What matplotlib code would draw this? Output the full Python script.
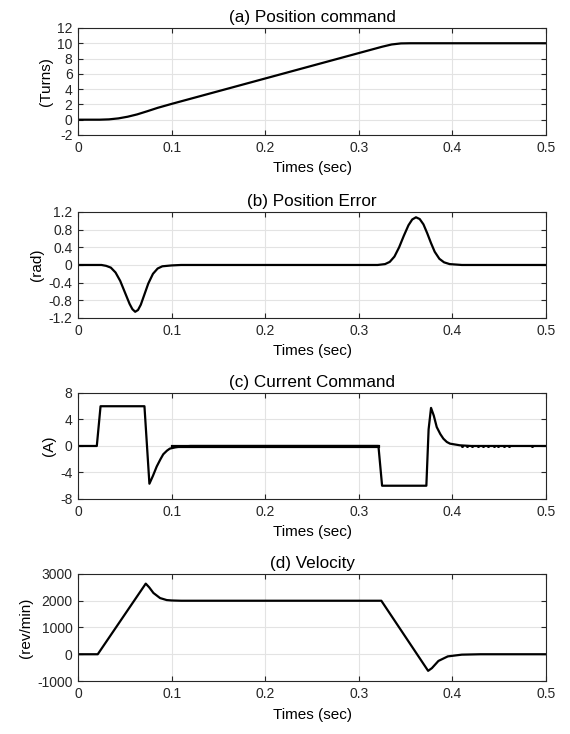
import numpy as np
import matplotlib
matplotlib.use("Agg")
import matplotlib.pyplot as plt

# (a) position command, turns
pos_t = [0, 0.023, 0.033, 0.043, 0.053, 0.063, 0.074, 0.085, 0.1, 0.325, 0.335, 0.345, 0.355, 0.5]
pos_v = [0, 0, 0.043, 0.17, 0.39, 0.69, 1.11, 1.55, 2.07, 9.55, 9.84, 9.98, 10.0, 10.0]

# (b) position error, rad
err_t = [0, 0.025, 0.030, 0.035, 0.040, 0.045, 0.050, 0.055, 0.058, 0.061, 0.064, 0.067,
         0.071, 0.075, 0.080, 0.085, 0.090, 0.100, 0.110,
         0.320, 0.328, 0.333, 0.338, 0.343, 0.348, 0.353, 0.357, 0.361, 0.365, 0.369,
         0.373, 0.377, 0.381, 0.386, 0.391, 0.397, 0.410, 0.5]
err_v = [0, 0, -0.02, -0.06, -0.17, -0.36, -0.62, -0.88, -1.00, -1.06, -1.02, -0.90,
         -0.66, -0.42, -0.20, -0.08, -0.03, -0.01, 0,
         0, 0.02, 0.07, 0.19, 0.40, 0.66, 0.90, 1.03, 1.08, 1.04, 0.92,
         0.72, 0.50, 0.30, 0.14, 0.06, 0.02, 0, 0]

# (c) current command, A
cur_t = [0, 0.020, 0.024, 0.0709, 0.0762, 0.080, 0.084, 0.088, 0.091, 0.095, 0.098, 0.104, 0.109, 0.12,
         0.3209, 0.3248, 0.3721, 0.3745, 0.3771, 0.380, 0.3832, 0.387, 0.3903, 0.394, 0.3974, 0.408, 0.42, 0.5]
cur_v = [0, 0, 6, 6, -5.7, -4.5, -3.1, -2.0, -1.25, -0.7, -0.4, -0.2, -0.1, 0,
         0, -6, -6, 2.5, 5.75, 4.6, 2.85, 1.8, 1.1, 0.6, 0.35, 0.1, 0, 0]
noise_t = [0.41, 0.415, 0.421, 0.427, 0.433, 0.438, 0.444, 0.449, 0.455, 0.46, 0.485]
noise_v = [0.05, -0.05, 0.06, -0.05, 0.05, -0.06, 0.05, -0.05, 0.05, 0.03, 0.0]

# (d) velocity, rev/min
vel_t = [0, 0.021, 0.0723, 0.076, 0.0805, 0.0876, 0.0947, 0.1, 0.11, 0.324, 0.374, 0.378,
         0.385, 0.395, 0.41, 0.43, 0.5]
vel_v = [0, 0, 2640, 2500, 2290, 2100, 2025, 2010, 2000, 2000, -620, -520,
         -250, -80, -15, 0, 0]

plt.rcParams['font.family'] = ['Liberation Sans', 'DejaVu Sans']
plt.rcParams['axes.unicode_minus'] = False
dark = '#262626'

fig = plt.figure(figsize=(5.7, 7.34), dpi=100)
boxes = [[0.137, 0.8161, 0.821, 0.1458],
         [0.137, 0.5668, 0.821, 0.1444],
         [0.137, 0.3202, 0.821, 0.1444],
         [0.137, 0.0722, 0.821, 0.1458]]
titles = ['(a) Position command', '(b) Position Error', '(c) Current Command', '(d) Velocity']
ylabels = ['(Turns)', '(rad)', '(A)', '(rev/min)']
yranges = [(-2, 12), (-1.2, 1.2), (-8, 8), (-1000, 3000)]
yticks = [np.arange(-2, 13, 2), [-1.2, -0.8, -0.4, 0, 0.4, 0.8, 1.2],
          [-8, -4, 0, 4, 8], [-1000, 0, 1000, 2000, 3000]]
ytl = [None, ['-1.2', '-0.8', '-0.4', '0', '0.4', '0.8', '1.2'], None, None]
series = [(pos_t, pos_v), (err_t, err_v), (cur_t, cur_v), (vel_t, vel_v)]

for i in range(4):
    ax = fig.add_axes(boxes[i])
    t, v = series[i]
    ax.plot(t, v, color='black', lw=1.6, solid_joinstyle='round')
    if i == 2:
        # noisy part drawn a bit heavier
        ax.plot([0.1, 0.3209], [-0.03, -0.03], color='black', lw=2.3)
        ax.plot(noise_t, noise_v, ls='none', marker='o', ms=1.2, color='black')
    ax.set_xlim(0, 0.5)
    ax.set_ylim(*yranges[i])
    ax.set_xticks([0, 0.1, 0.2, 0.3, 0.4, 0.5])
    ax.set_xticklabels(['0', '0.1', '0.2', '0.3', '0.4', '0.5'])
    ax.set_yticks(yticks[i])
    if ytl[i] is not None:
        ax.set_yticklabels(ytl[i])
    ax.grid(True, color='#e3e3e3', lw=0.8)
    ax.set_axisbelow(True)
    ax.tick_params(direction='in', length=3.5, width=0.8, top=True, right=True,
                   labelsize=10, colors=dark, labelcolor=dark, pad=4)
    for s in ax.spines.values():
        s.set_color(dark)
        s.set_linewidth(0.8)
    ax.set_title(titles[i], fontsize=12.3, color='black', pad=4)
    ax.set_xlabel('Times (sec)', fontsize=11, color='black', labelpad=5)
    ax.set_ylabel(ylabels[i], fontsize=11, color='black', labelpad=3)

fig.savefig('out.png', dpi=100)
